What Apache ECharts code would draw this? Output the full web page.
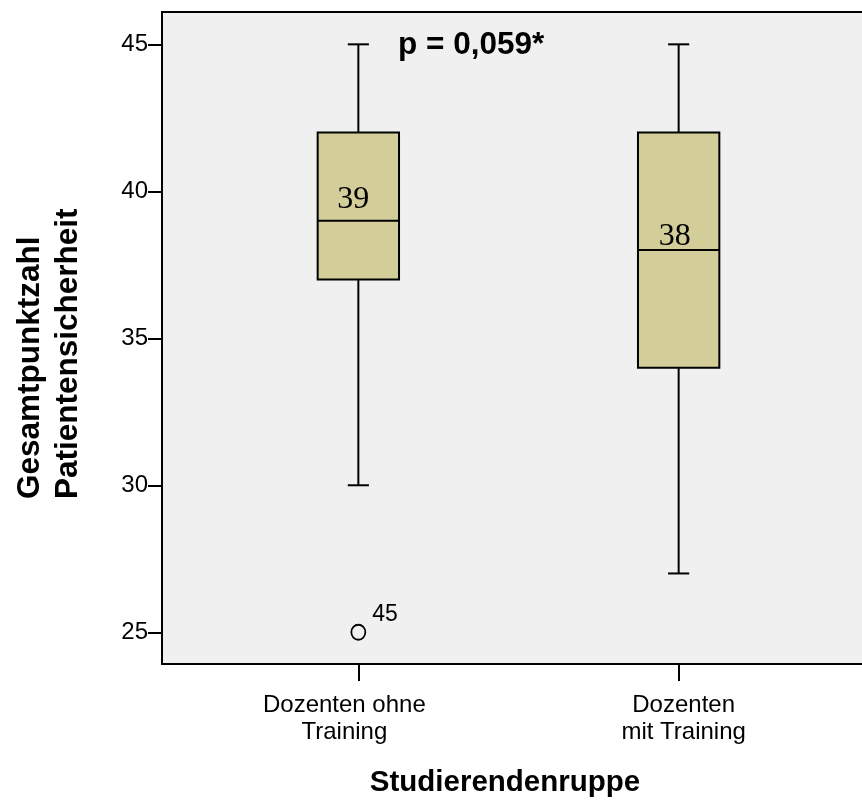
<!DOCTYPE html>
<html>
<head>
<meta charset="utf-8">
<script src="https://cdn.jsdelivr.net/npm/echarts@6/dist/echarts.min.js"></script>
<style>
  html, body { margin: 0; padding: 0; background: #fff; }
  #chart { width: 862px; height: 801px; }
</style>
</head>
<body>
<div id="chart"></div>
<script>
// Gruppen und Kennwerte der Boxplots (Gesamtpunktzahl Patientensicherheit)
const categories = ['Dozenten ohne\nTraining', 'Dozenten\nmit Training'];
const whiskerLow = [30, 27];
const q1 = [37, 34];
const median = [39, 38];
const q3 = [42, 42];
const whiskerHigh = [45, 45];
// Ausreißer: Gruppenindex, Wert, Fallnummer
const outlierGroup = [0];
const outlierValue = [25];
const outlierCase = ['45'];
const yTicks = [25, 30, 35, 40, 45];
const pText = 'p = 0,059*';
const xTitle = 'Studierendenruppe';
const yTitle = ['Gesamtpunktzahl', 'Patientensicherheit'];

const SANS = 'Arial, "Liberation Sans", Helvetica, sans-serif';
const SERIF = '"Times New Roman", "Liberation Serif", serif';

const boxData = categories.map((c, i) => [i + 1, whiskerLow[i], q1[i], median[i], q3[i], whiskerHigh[i]]);
const outlierData = outlierGroup.map((g, k) => ({ value: [g + 1, outlierValue[k]], caseId: outlierCase[k] }));

// Lage der Medianbeschriftung je Gruppe (Pixelversatz zur Medianlinie)
const medLabelOffset = [[-5, -5], [-4, 2]];

const chart = echarts.init(document.getElementById('chart'), null, { renderer: 'canvas' });

function renderBox(params, api) {
  const x = api.value(0);
  const lo = api.coord([x, api.value(1)]);
  const b1 = api.coord([x, api.value(2)]);
  const md = api.coord([x, api.value(3)]);
  const b3 = api.coord([x, api.value(4)]);
  const hi = api.coord([x, api.value(5)]);
  const half = api.size([0.254, 0])[0] / 2;
  const cap = api.size([0.066, 0])[0] / 2;
  const cx = md[0];
  const line = { stroke: '#000', lineWidth: 2 };
  const off = medLabelOffset[params.dataIndex];
  return {
    type: 'group',
    children: [
      { type: 'line', shape: { x1: cx, y1: hi[1], x2: cx, y2: b3[1] }, style: line },
      { type: 'line', shape: { x1: cx, y1: b1[1], x2: cx, y2: lo[1] }, style: line },
      { type: 'line', shape: { x1: cx - cap, y1: hi[1], x2: cx + cap, y2: hi[1] }, style: line },
      { type: 'line', shape: { x1: cx - cap, y1: lo[1], x2: cx + cap, y2: lo[1] }, style: line },
      { type: 'rect', shape: { x: cx - half, y: b3[1], width: half * 2, height: b1[1] - b3[1] },
        style: { fill: '#d3ce99', stroke: '#000', lineWidth: 2 } },
      { type: 'line', shape: { x1: cx - half, y1: md[1], x2: cx + half, y2: md[1] }, style: line },
      { type: 'text', x: cx + off[0], y: md[1] + off[1],
        style: { text: String(api.value(3)), fill: '#000', font: '32px ' + SERIF,
                 textAlign: 'center', textVerticalAlign: 'bottom' } }
    ]
  };
}

const option = {
  animation: false,
  backgroundColor: '#fff',
  grid: {
    left: 162, top: 12, width: 713, height: 652,
    outerBoundsMode: 'none', containLabel: false,
    show: true, backgroundColor: '#f0f0f0', borderColor: '#000', borderWidth: 2
  },
  xAxis: {
    type: 'value', min: 0.387, max: 2.613,
    splitLine: { show: false },
    axisLine: { show: true, onZero: false, lineStyle: { color: '#000', width: 2 } },
    axisTick: { show: true, customValues: [1, 2], length: 17, lineStyle: { color: '#000', width: 2 } },
    axisLabel: {
      customValues: [1, 2], margin: 28, color: '#000', fontFamily: SANS, fontSize: 24, lineHeight: 27,
      formatter: v => {
        const i = Math.round(v) - 1;
        const tag = i === 0 ? 'a' : 'b';
        return (categories[i] || '').split('\n').map(s => '{' + tag + '|' + s + '}').join('\n');
      },
      rich: {
        a: { fontFamily: SANS, fontSize: 24, lineHeight: 27, color: '#000', padding: [0, 28, 0, 0] },
        b: { fontFamily: SANS, fontSize: 24, lineHeight: 27, color: '#000', padding: [0, 0, 0, 10] }
      }
    }
  },
  yAxis: {
    type: 'value', min: 23.92, max: 46.1,
    splitLine: { show: false },
    axisLine: { show: true, onZero: false, lineStyle: { color: '#000', width: 2 } },
    axisTick: { show: true, customValues: yTicks, length: 14, lineStyle: { color: '#000', width: 2 } },
    axisLabel: { customValues: yTicks, margin: 14, color: '#000', fontFamily: SANS, fontSize: 24 }
  },
  series: [
    {
      type: 'custom', renderItem: renderBox, data: boxData,
      encode: { x: 0, y: [1, 2, 3, 4, 5] }, z: 3
    },
    {
      type: 'scatter', data: outlierData, symbol: 'circle', symbolSize: [14, 15], z: 4,
      itemStyle: { color: 'rgba(0,0,0,0)', borderColor: '#000', borderWidth: 1.8, opacity: 1 },
      label: {
        show: true, position: 'right', offset: [1, -18], color: '#000', fontFamily: SANS, fontSize: 23,
        formatter: p => p.data.caseId
      }
    }
  ],
  graphic: [
    { type: 'text', left: 398, top: 29, z: 10,
      style: { text: pText, font: 'bold 31.5px ' + SANS, fill: '#000' } },
    { type: 'text', x: 505, y: 783, z: 10,
      style: { text: xTitle, font: 'bold 29.5px ' + SANS, fill: '#000', textAlign: 'center', textVerticalAlign: 'middle' } },
    { type: 'text', x: 30, y: 499, rotation: Math.PI / 2, z: 10,
      style: { text: yTitle[0], font: 'bold 31.5px ' + SANS, fill: '#000', textAlign: 'left', textVerticalAlign: 'middle' } },
    { type: 'text', x: 68, y: 499, rotation: Math.PI / 2, z: 10,
      style: { text: yTitle[1], font: 'bold 31.5px ' + SANS, fill: '#000', textAlign: 'left', textVerticalAlign: 'middle' } }
  ]
};

chart.setOption(option);
</script>
</body>
</html>
